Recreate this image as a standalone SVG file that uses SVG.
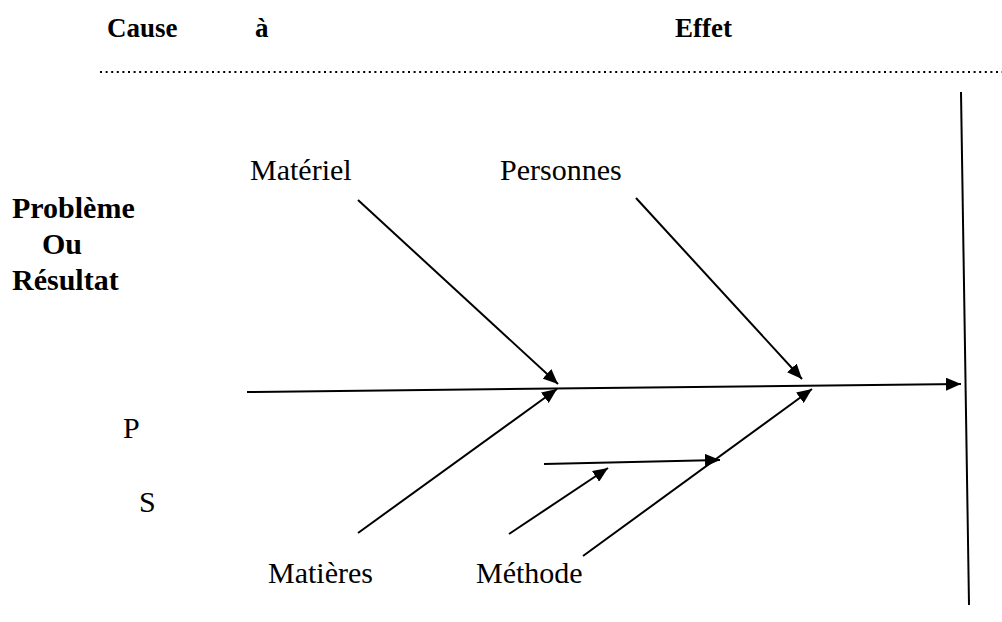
<svg xmlns="http://www.w3.org/2000/svg" width="1002" height="622" viewBox="0 0 1002 622">
<style>
.t{font-family:"Liberation Serif","Times New Roman",serif;font-size:30px;fill:#000}
.h{font-size:27px;font-weight:bold}
.b{font-weight:bold}
.ln{stroke:#000;stroke-width:2;fill:none}
</style>
<defs>
<marker id="ah" viewBox="0 0 15 13" refX="15" refY="6.5" markerWidth="15" markerHeight="13" markerUnits="userSpaceOnUse" orient="auto">
<path d="M0,0 L15,6.5 L0,13 z" fill="#000"/>
</marker>
</defs>
<rect width="1002" height="622" fill="#fff"/>
<g id="header">
<text class="t h" x="107" y="37">Cause</text>
<text class="t h" x="255" y="37">à</text>
<text class="t h" x="675" y="37">Effet</text>
<line x1="100" y1="72" x2="1002" y2="72" stroke="#000" stroke-width="2" stroke-dasharray="2 3.6"/>
</g>
<g id="problem">
<text class="t b" x="12" y="218">Problème</text>
<text class="t b" x="42" y="254">Ou</text>
<text class="t b" x="12" y="290">Résultat</text>
</g>
<g id="effect-bar">
<line class="ln" x1="961" y1="92" x2="969" y2="605"/>
</g>
<g id="labels">
<text class="t" x="250" y="180">Matériel</text>
<text class="t" x="500" y="180">Personnes</text>
<text class="t" x="123" y="438">P</text>
<text class="t" x="139" y="512">S</text>
<text class="t" x="268" y="583">Matières</text>
<text class="t" x="476" y="583">Méthode</text>
</g>
<g id="connectors">
<line class="ln" x1="247" y1="392" x2="961" y2="384" marker-end="url(#ah)"/>
<line class="ln" x1="358" y1="200" x2="558" y2="384" marker-end="url(#ah)"/>
<line class="ln" x1="636" y1="198" x2="802" y2="379" marker-end="url(#ah)"/>
<line class="ln" x1="358" y1="533" x2="557" y2="389" marker-end="url(#ah)"/>
<line class="ln" x1="583" y1="556" x2="812" y2="389" marker-end="url(#ah)"/>
<line class="ln" x1="544" y1="464" x2="720" y2="460" marker-end="url(#ah)"/>
<line class="ln" x1="509" y1="534" x2="608" y2="468" marker-end="url(#ah)"/>
</g>
</svg>
